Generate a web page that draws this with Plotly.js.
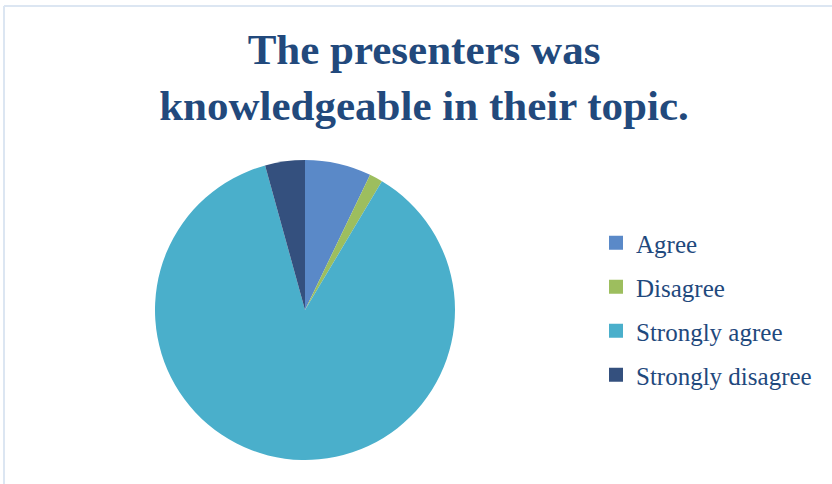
<!DOCTYPE html>
<html>
<head>
<meta charset="utf-8">
<script src="https://cdn.plot.ly/plotly-3.0.1.min.js"></script>
<style>
  html, body { margin: 0; padding: 0; background: #ffffff; }
  #chart { width: 832px; height: 484px; }
</style>
</head>
<body>
<div id="chart"></div>
<script>
// Data (approximate counts)
const categories = ["Agree", "Disagree", "Strongly agree", "Strongly disagree"];
const values = [5, 1, 61, 3];
const colors = ["#5A89C8", "#9DBE5E", "#4AAFCB", "#34507E"];
const titleText = "The presenters was<br>knowledgeable in their topic.";

const W = 832, H = 484;

const pieTrace = {
  type: "pie",
  labels: categories,
  values: values,
  sort: false,
  direction: "clockwise",
  rotation: 0,
  textinfo: "none",
  hoverinfo: "label+value+percent",
  marker: { colors: colors, line: { width: 0 } },
  showlegend: false,
  domain: { x: [155 / W, 455 / W], y: [1 - 460 / H, 1 - 160 / H] }
};

// Legend entries (one per category, each in its own group for spacing)
const legendTraces = categories.map((c, i) => ({
  type: "scatter",
  mode: "markers",
  x: [null],
  y: [null],
  name: c,
  legendgroup: "g" + i,
  showlegend: true,
  hoverinfo: "skip",
  marker: { symbol: "square", size: 14, color: colors[i] }
}));

const layout = {
  width: W,
  height: H,
  margin: { l: 0, r: 0, t: 0, b: 0 },
  paper_bgcolor: "#ffffff",
  plot_bgcolor: "rgba(0,0,0,0)",
  title: {
    text: titleText,
    font: { family: "Liberation Serif, serif", size: 43, color: "#22497C", weight: "bold" },
    x: 424 / W,
    xanchor: "center",
    xref: "paper",
    y: 1 - 64 / H,
    yanchor: "top",
    yref: "container"
  },
  xaxis: { visible: false },
  yaxis: { visible: false },
  showlegend: true,
  legend: {
    x: 596 / W,
    xanchor: "left",
    y: 1 - 220 / H,
    yanchor: "top",
    font: { family: "Liberation Serif, serif", size: 25, color: "#1F497D" },
    tracegroupgap: 8.5,
    bgcolor: "rgba(0,0,0,0)",
    itemclick: false,
    itemdoubleclick: false
  },
  shapes: [
    { type: "line", xref: "paper", yref: "paper", x0: 4 / W, x1: 4 / W, y0: 0, y1: 1 - 6 / H,
      line: { color: "#DCE6F2", width: 2 } },
    { type: "line", xref: "paper", yref: "paper", x0: 4 / W, x1: 1, y0: 1 - 6 / H, y1: 1 - 6 / H,
      line: { color: "#DCE6F2", width: 2 } }
  ]
};

Plotly.newPlot("chart", [pieTrace].concat(legendTraces), layout, { displayModeBar: false, staticPlot: false });
</script>
</body>
</html>
